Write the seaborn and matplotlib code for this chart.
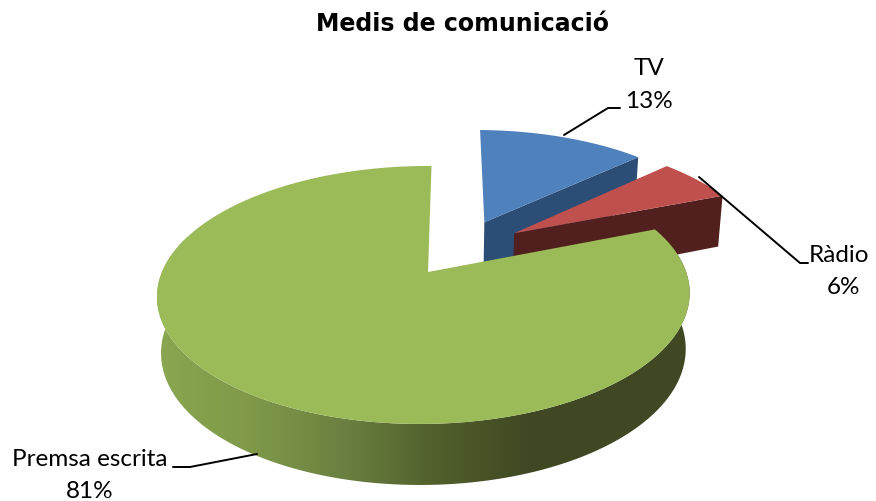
# Medis de comunicacio - 3D exploded pie

import numpy as np
import matplotlib
matplotlib.use("Agg")
import matplotlib.pyplot as plt
from matplotlib.patches import Polygon
import seaborn as sns

# Data
categories = ["TV", "Ràdio", "Premsa escrita"]
values = [13, 6, 81]
pct_labels = ["13%", "6%", "81%"]

# Perspective of the disc (in image pixels)
CX, CY = 428, 272
A, B, K = 262, 124.9, 0.178
KX, SHEAR = 0.015, 3.5

top_colors = ["#4F81BD", "#C0504D", "#9BBB59"]
wall_colors = ["#2C4D75", "#511F1E", "#3F4923"]
offsets = [(0.226, 0.43), (0.345, 0.33), (0.0, 0.0)]

side_cmap = sns.blend_palette(["#8AA650", "#7F9949", "#6A8040", "#515F2B", "#3F4823"],
                              n_colors=256, as_cmap=True)


def project(X, Y, bottom=False):
    w = 1 + K * Y + KX * X
    x = A * X / w + SHEAR * Y
    y = CY - B * Y / w
    if bottom:
        x = x * 0.985
        y = y + 55 - 6 * Y
    return CX + x, y


sns.set_theme(style="white")
plt.rcParams["font.family"] = ["Lato", "DejaVu Sans"]

fig, ax = plt.subplots(figsize=(8.76, 5.01), dpi=100)
fig.subplots_adjust(0, 0, 1, 1)

# wedge angles, clockwise from the top
edges = np.cumsum([0] + values) / sum(values) * 2 * np.pi

# -------------------------------
# Cut faces of the two small wedges, then their tops
for i in [0, 1]:
    ox, oy = offsets[i]
    end = edges[i + 1]
    rx, ry = ox + np.sin(end), oy + np.cos(end)
    p = [project(rx, ry), project(ox, oy), project(ox, oy, True), project(rx, ry, True)]
    ax.fill(*zip(*p), color=wall_colors[i], lw=0, zorder=2 + i)
    t = np.linspace(edges[i], end, 60)
    xs, ys = project(np.r_[ox, ox + np.sin(t)], np.r_[oy, oy + np.cos(t)])
    ax.fill(xs, ys, color=top_colors[i], lw=0, zorder=2 + i)

# -------------------------------
# Outer wall of the big wedge, gradient along x clipped to the wall shape
t = np.linspace(edges[2], edges[3], 500)
front = t[(np.cos(t) < 0.3)]  # the rear part of the rim is hidden behind the top
tx, ty = project(np.sin(front), np.cos(front))
bx, by = project(np.sin(front), np.cos(front), True)
wall = Polygon(np.c_[np.r_[bx, tx[::-1]], np.r_[by, ty[::-1]]], closed=True,
               transform=ax.transData, facecolor="none", edgecolor="none")
ax.add_patch(wall)
ramp = np.clip((np.arange(150, 700) - 160) / 370, 0, 1)[None, :]
img = ax.imshow(ramp, cmap=side_cmap, vmin=0, vmax=1, extent=(150, 700, 500, 150),
                aspect="auto", zorder=5)
img.set_clip_path(wall)

# Top of the big wedge
xs, ys = project(np.r_[0, np.sin(t)], np.r_[0, np.cos(t)])
ax.fill(xs, ys, color=top_colors[2], lw=0, zorder=6)

ax.set_xlim(0, 876)
ax.set_ylim(501, 0)
ax.axis("off")

# -------------------------------
# Leader lines
leaders = [
    ([564, 608, 620], [135, 108, 108]),
    ([699, 800, 808], [177, 263, 263]),
    ([257, 190, 173], [454, 467, 467]),
]
for lx, ly in leaders:
    ax.plot(lx, ly, color="black", lw=1.4, zorder=7, solid_joinstyle="miter")

# Labels
ax.text(649, 68, categories[0], fontsize=17.5, ha="center", va="center", color="black")
ax.text(649, 101, pct_labels[0], fontsize=17.5, ha="center", va="center", color="black")
ax.text(839, 255, categories[1], fontsize=17.5, ha="center", va="center", color="black")
ax.text(843, 287, pct_labels[1], fontsize=17.5, ha="center", va="center", color="black")
ax.text(90, 459, categories[2], fontsize=17.5, ha="center", va="center", color="black")
ax.text(90, 491, pct_labels[2], fontsize=17.5, ha="center", va="center", color="black")

ax.text(462, 24, "Medis de comunicació", fontsize=17, fontweight="bold", ha="center", va="center",
        family="DejaVu Sans", color="black")

fig.savefig("out.png", dpi=100)
